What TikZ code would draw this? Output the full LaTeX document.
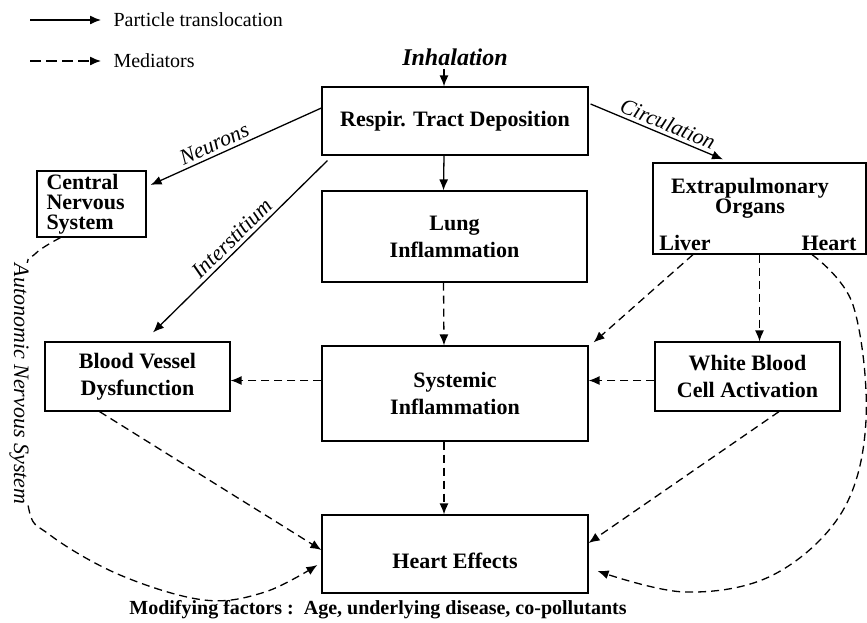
\documentclass[tikz,border=0pt]{standalone}
\usepackage{fontspec}
\setmainfont{Liberation Serif}
\usetikzlibrary{arrows.meta}

\begin{document}
\begin{tikzpicture}[x=1pt, y=-1pt,
  box/.style={draw, line width=1.2pt, inner sep=0pt, align=center,
    font=\fontsize{22}{27}\selectfont\bfseries},
  trans/.style={-{Latex[length=11pt, width=9pt]}, line width=1.3pt},
  med/.style={-{Latex[length=11pt, width=9pt]}, line width=1.3pt, dash pattern=on 8pt off 5pt},
  lab/.style={font=\fontsize{22}{22}\selectfont\itshape}]

\useasboundingbox (0,0) rectangle (867,622);

% Legenda
\coordinate (la) at (30,20);
\coordinate (lb) at (101,20);
\coordinate (lc) at (30,61);
\coordinate (ld) at (101,61);
\draw[trans] (la) -- (lb);
\draw[med, dash pattern=on 11pt off 5pt] (lc) -- (ld);
\node[anchor=west, font=\fontsize{20}{20}\selectfont] (ltrans) at (110,20) {Particle translocation};
\node[anchor=west, font=\fontsize{20}{20}\selectfont] (lmed) at (110,61) {Mediators};

% Scatole
\node[font=\fontsize{24}{24}\selectfont\bfseries\itshape] (inh) at (455,57) {Inhalation};
\node[box, minimum width=266, minimum height=68] (resp) at (455,121) {Respir. Tract Deposition};
\node[box, minimum width=265, minimum height=91] (lung) at (454.5,236.5) {Lung\\Inflammation};
\node[box, minimum width=266, minimum height=95] (syst) at (455,393.5) {Systemic\\Inflammation};
\node[box, minimum width=266, minimum height=78, text height=33pt, text depth=5pt] (heart) at (455,554) {Heart Effects};
\node[box, minimum width=185, minimum height=69] (vessel) at (137.5,376.5) {Blood Vessel\\Dysfunction};
\node[box, minimum width=185, minimum height=69] (wbc) at (747.5,376.5) {White Blood\\Cell Activation};
\node[box, minimum width=109, minimum height=66, align=left, text width=90,
  font=\fontsize{22}{20}\selectfont\bfseries] (cns) at (91.5,204) {Central\\Nervous\\System};

% Organi extrapolmonari
\node[box, minimum width=213, minimum height=91] (extra) at (759.5,208.5) {};
\node[align=center, font=\fontsize{22}{20}\selectfont\bfseries] (extrat) at (750,198) {Extrapulmonary\\Organs};
\node[font=\fontsize{22}{22}\selectfont\bfseries] (liver) at (685,243) {Liver};
\node[font=\fontsize{22}{22}\selectfont\bfseries] (organ) at (829,243) {Heart};

% Traslocazione
\draw[trans] ([xshift=-11pt]inh.south) -- ([xshift=-11pt]resp.north);
\draw[trans] ([xshift=-11pt]resp.south) -- ([xshift=-11pt]lung.north);
\draw[trans] ([yshift=13pt]resp.west) -- ([xshift=4pt, yshift=19pt]cns.east)
  node[lab, pos=0.6, above, sloped] {Neurons};
\draw[trans] ([xshift=6pt, yshift=-5pt]resp.south west) -- ([xshift=15.5pt, yshift=9pt]vessel.north)
  node[lab, pos=0.5, above, sloped] {Interstitium};
\draw[trans] ([xshift=2pt, yshift=17pt]resp.east) -- ([xshift=-36.5pt, yshift=3pt]extra.north)
  node[lab, pos=0.55, above, sloped] {Circulation};

% Mediatori
\draw[med] ([xshift=-11pt]lung.south) -- ([xshift=-11pt]syst.north);
\draw[med] ([xshift=-11pt]syst.south) -- ([xshift=-11pt]heart.north);
\draw[med] ([yshift=-4pt]vessel.east -| syst.west) -- ([yshift=-4pt]vessel.east);
\draw[med] ([yshift=-4pt]wbc.west) -- ([yshift=-4pt]wbc.west -| syst.east);
\draw[med] (extra.south) -- (extra.south |- wbc.north);
\draw[med] ([xshift=8pt]liver.south |- extra.south) -- ([xshift=5pt, yshift=3pt]syst.north east);
\draw[med] ([xshift=-38pt]vessel.south) -- ([yshift=4pt]heart.west);
\draw[med] ([xshift=31.5pt]wbc.south) -- ([yshift=11pt]heart.east);

% Curve lunghe
\coordinate (hs) at ([xshift=-17pt]organ.south |- extra.south);
\coordinate (he) at ([xshift=9pt, yshift=-17pt]heart.east);
\draw[med] plot[smooth, tension=0.6] coordinates {
    (hs) (853,305) (866,420) (842,512) (773,575) (685,592) (he)
};
\coordinate (as) at ([xshift=-31pt]cns.south);
\coordinate (ae) at ([xshift=-4pt, yshift=-11pt]heart.west);
\draw[med] plot[smooth, tension=0.6] coordinates {
    (as) (35,254) (26,275) (24,400) (28,505) (50,535) (120,575) (204,600) (265,592) (ae)
};
\node[lab, rotate=-90, fill=white, inner sep=1pt] (anslab) at (19,384) {Autonomic Nervous System};

% Fattori
\node[font=\fontsize{20}{20}\selectfont\bfseries] (modf) at (378,610)
  {Modifying factors :\ \ Age, underlying disease, co-pollutants};

\end{tikzpicture}
\end{document}
